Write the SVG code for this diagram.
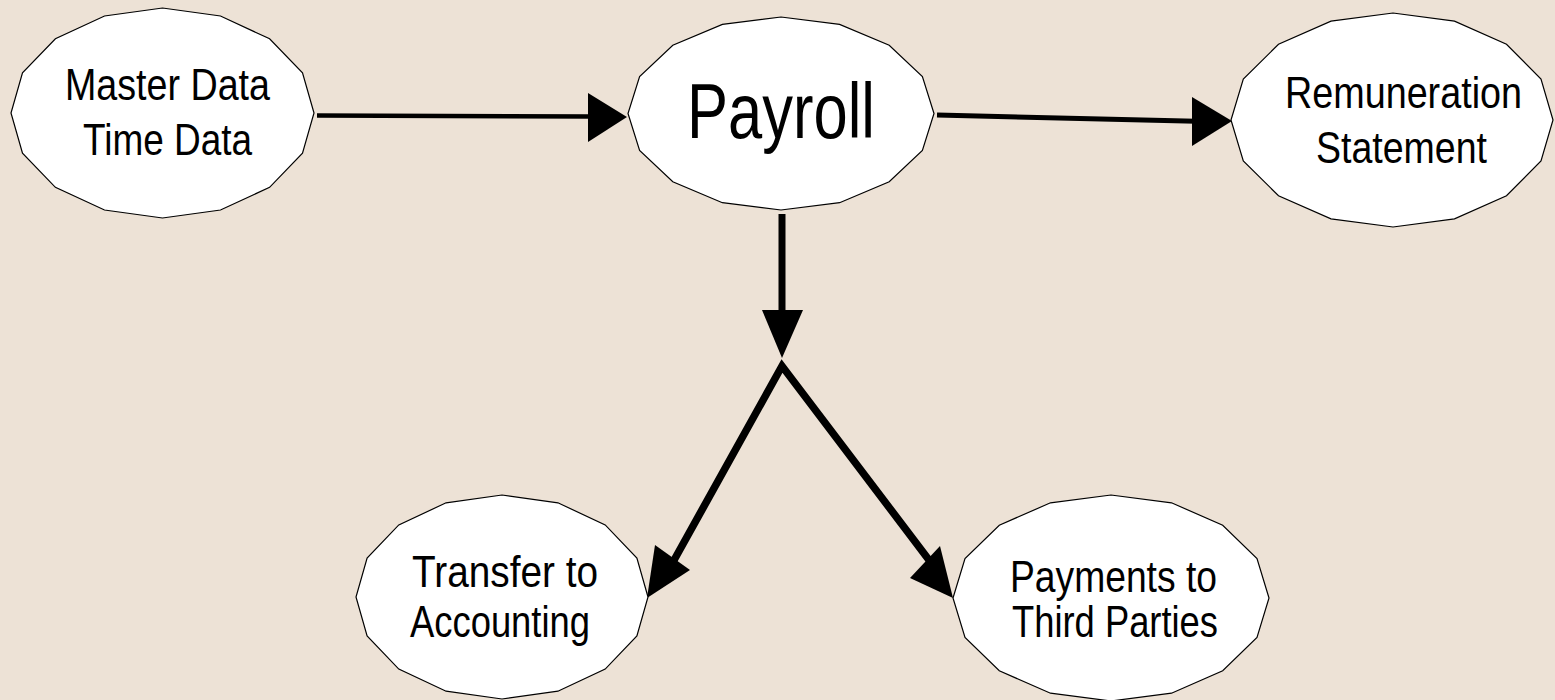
<svg xmlns="http://www.w3.org/2000/svg" width="1555" height="700" viewBox="0 0 1555 700">
<style>
.node{fill:#fff;stroke:#000;stroke-width:1.2}
.t{font-family:"Liberation Sans",Arial,sans-serif;font-size:44px;fill:#000;text-anchor:middle}
.big{font-size:78px}
.ln{stroke:#000;fill:none;stroke-linecap:butt}
.hd{fill:#000;stroke:none}
</style>
<rect width="1555" height="700" fill="#EDE2D6"/>
<g id="connectors">
<line class="ln" x1="317" y1="115.5" x2="592" y2="116.5" stroke-width="4.5"/>
<polygon class="hd" points="627,117 588,93 588,142"/>
<line class="ln" x1="937" y1="115" x2="1196" y2="121.3" stroke-width="5"/>
<polygon class="hd" points="1232,121 1192,97 1192,146"/>
<line class="ln" x1="782" y1="214" x2="782" y2="314" stroke-width="7"/>
<polygon class="hd" points="782,358 762,310 803,310"/>
<polyline class="ln" points="673,562 782,366 932,564" stroke-width="7.5" stroke-linejoin="miter"/>
<polygon class="hd" points="647,598 655,545 690,570"/>
<polygon class="hd" points="953,598 940,546 910,578"/>
</g>
<g id="master">
<polygon class="node" points="314,113 302.5,72.8 269.6,38.8 220.5,16 162.5,8 104.5,16 55.4,38.8 22.5,72.8 11,113 22.5,153.2 55.4,187.3 104.5,210 162.5,218 220.5,210 269.6,187.3 302.5,153.2"/>
<text class="t" x="167.5" y="100" textLength="205" lengthAdjust="spacingAndGlyphs">Master Data</text>
<text class="t" x="167.5" y="155" textLength="169" lengthAdjust="spacingAndGlyphs">Time Data</text>
</g>
<g id="payroll">
<polygon class="node" points="934,113.5 922.4,76.6 889.2,45.3 839.6,24.4 781,17 722.4,24.4 672.8,45.3 639.6,76.6 628,113.5 639.6,150.4 672.8,181.7 722.4,202.7 781,210 839.6,202.7 889.2,181.7 922.4,150.4"/>
<text class="t big" x="781" y="138" textLength="188" lengthAdjust="spacingAndGlyphs">Payroll</text>
</g>
<g id="remuneration">
<polygon class="node" points="1553,120 1541,79.1 1506.5,44.3 1454.5,21.1 1393,13 1331,21.1 1278.5,44.3 1243.3,79.1 1231,120 1243.3,160.9 1278.5,195.7 1331,218.9 1393,227 1454.5,218.9 1506.5,195.7 1541,160.9"/>
<text class="t" x="1403.5" y="108" textLength="237" lengthAdjust="spacingAndGlyphs">Remuneration</text>
<text class="t" x="1401.5" y="163" textLength="171" lengthAdjust="spacingAndGlyphs">Statement</text>
</g>
<g id="transfer">
<polygon class="node" points="648,597 636.9,558 605.2,524.9 557.9,502.8 502,495 446.1,502.8 398.8,524.9 367.1,558 356,597 367.1,636 398.8,669.1 446.1,691.2 502,699 557.9,691.2 605.2,669.1 636.9,636"/>
<text class="t" x="505" y="587" textLength="186" lengthAdjust="spacingAndGlyphs">Transfer to</text>
<text class="t" x="500" y="637" textLength="180" lengthAdjust="spacingAndGlyphs">Accounting</text>
</g>
<g id="payments">
<polygon class="node" points="1269,598 1257,558.6 1222.7,525.2 1171.5,502.8 1111,495 1050.5,502.8 999.3,525.2 965,558.6 953,598 965,637.4 999.3,670.8 1050.5,693.2 1111,701 1171.5,693.2 1222.7,670.8 1257,637.4"/>
<text class="t" x="1113.5" y="592" textLength="207" lengthAdjust="spacingAndGlyphs">Payments to</text>
<text class="t" x="1115" y="637" textLength="206" lengthAdjust="spacingAndGlyphs">Third Parties</text>
</g>
</svg>
